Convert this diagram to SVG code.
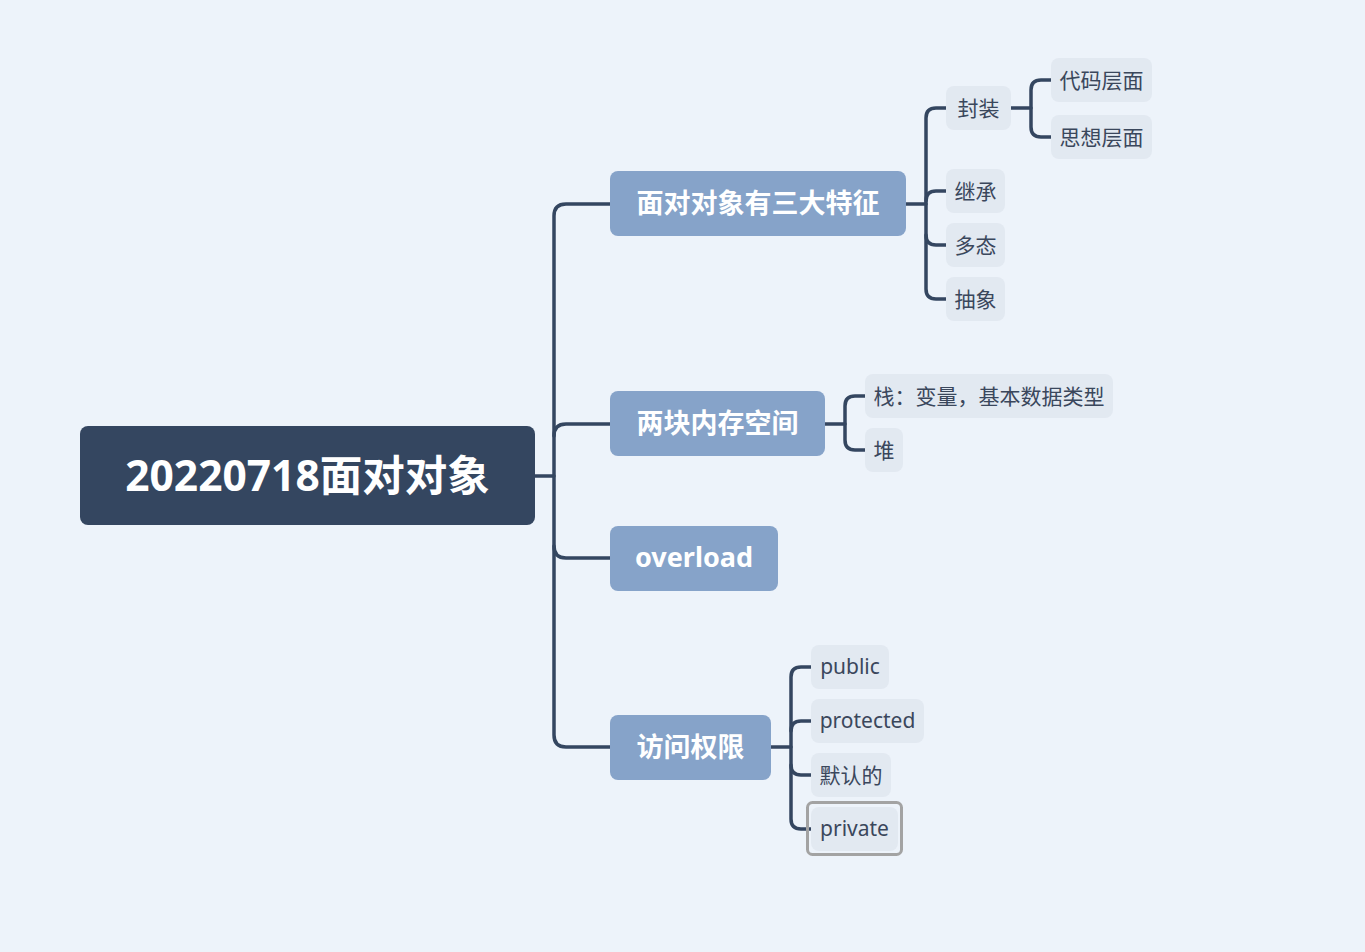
<svg xmlns="http://www.w3.org/2000/svg" width="1365" height="952" viewBox="0 0 1365 952">
<style>
.bg{fill:#edf3fa}
.root{fill:#344660}
.br{fill:#86a3c9}
.lf{fill:#e2e9f1}
.rt{font-family:"Noto Sans","Noto Sans CJK SC",sans-serif;font-weight:bold;font-size:42.5px;fill:#fff}
.bt{font-family:"Noto Sans","Noto Sans CJK SC",sans-serif;font-weight:bold;font-size:27px;fill:#fff}
.lt{font-family:"Noto Sans","Noto Sans CJK SC",sans-serif;font-size:21px;fill:#3a475c}
.cn{fill:none;stroke:#344660;stroke-width:3.5;stroke-linecap:round}
</style>
<rect class="bg" x="0" y="0" width="1365" height="952"/>
<g id="connectors">
<path class="cn" d="M535,476 H554"/>
<path class="cn" d="M610,204 H566 Q554,204 554,216 V735 Q554,747 566,747 H610"/>
<path class="cn" d="M554,436 Q554,424 566,424 H610"/>
<path class="cn" d="M554,546 Q554,558 566,558 H610"/>
<path class="cn" d="M906,204 H926"/>
<path class="cn" d="M946,108 H936 Q926,108 926,118 V289 Q926,299 936,299 H946"/>
<path class="cn" d="M926,201 Q926,191 936,191 H946"/>
<path class="cn" d="M926,235 Q926,245 936,245 H946"/>
<path class="cn" d="M1011,108 H1031"/>
<path class="cn" d="M1051,80 H1041 Q1031,80 1031,90 V127 Q1031,137 1041,137 H1051"/>
<path class="cn" d="M825,424 H845"/>
<path class="cn" d="M865,396 H855 Q845,396 845,406 V440 Q845,450 855,450 H865"/>
<path class="cn" d="M771,747 H791"/>
<path class="cn" d="M811,667 H801 Q791,667 791,677 V819 Q791,829 801,829 H811"/>
<path class="cn" d="M791,731 Q791,721 801,721 H811"/>
<path class="cn" d="M791,765 Q791,775 801,775 H811"/>
</g>
<g id="root"><rect class="root" x="80" y="426" width="455" height="99" rx="8"/><text class="rt" x="307.5" y="491" text-anchor="middle">20220718面对对象</text></g>
<g id="n1"><rect class="br" x="610" y="171" width="296" height="65" rx="8"/><text class="bt" x="758" y="213" text-anchor="middle">面对对象有三大特征</text></g>
<g id="n2"><rect class="br" x="610" y="391" width="215" height="65" rx="8"/><text class="bt" x="717.5" y="433" text-anchor="middle">两块内存空间</text></g>
<g id="n3"><rect class="br" x="610" y="526" width="168" height="65" rx="8"/><text class="bt" x="694" y="567" text-anchor="middle">overload</text></g>
<g id="n4"><rect class="br" x="610" y="715" width="161" height="65" rx="8"/><text class="bt" x="690.5" y="757" text-anchor="middle">访问权限</text></g>
<g id="l1"><rect class="lf" x="946" y="86" width="65" height="44" rx="8"/><text class="lt" x="978.5" y="116" text-anchor="middle">封装</text></g>
<g id="l1a"><rect class="lf" x="1051" y="58" width="101" height="44" rx="8"/><text class="lt" x="1101.5" y="88" text-anchor="middle">代码层面</text></g>
<g id="l1b"><rect class="lf" x="1051" y="115" width="101" height="44" rx="8"/><text class="lt" x="1101.5" y="145" text-anchor="middle">思想层面</text></g>
<g id="l2"><rect class="lf" x="946" y="169" width="59" height="44" rx="8"/><text class="lt" x="975.5" y="199" text-anchor="middle">继承</text></g>
<g id="l3"><rect class="lf" x="946" y="223" width="59" height="44" rx="8"/><text class="lt" x="975.5" y="253" text-anchor="middle">多态</text></g>
<g id="l4"><rect class="lf" x="946" y="277" width="59" height="44" rx="8"/><text class="lt" x="975.5" y="307" text-anchor="middle">抽象</text></g>
<g id="l5"><rect class="lf" x="865" y="374" width="248" height="44" rx="8"/><text class="lt" x="989" y="404" text-anchor="middle">栈：变量，基本数据类型</text></g>
<g id="l6"><rect class="lf" x="865" y="428" width="38" height="44" rx="8"/><text class="lt" x="884" y="458" text-anchor="middle">堆</text></g>
<g id="l7"><rect class="lf" x="811" y="645" width="78" height="44" rx="8"/><text class="lt" x="850" y="674" text-anchor="middle">public</text></g>
<g id="l8"><rect class="lf" x="811" y="699" width="113" height="44" rx="8"/><text class="lt" x="867.5" y="728" text-anchor="middle">protected</text></g>
<g id="l9"><rect class="lf" x="811" y="753" width="80" height="44" rx="8"/><text class="lt" x="851" y="783" text-anchor="middle">默认的</text></g>
<g id="l10"><rect class="lf" x="811" y="807" width="87" height="44" rx="8"/><rect x="807.5" y="802.5" width="94" height="52" rx="5" fill="none" stroke="#a3a3a3" stroke-width="3"/><text class="lt" x="854.5" y="836" text-anchor="middle">private</text></g>
</svg>
